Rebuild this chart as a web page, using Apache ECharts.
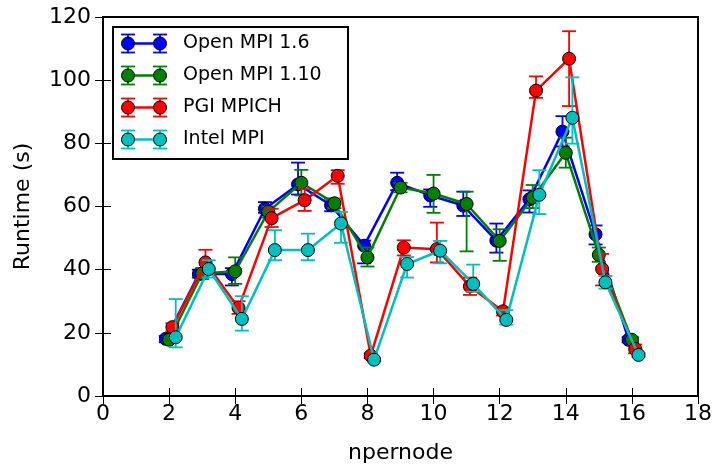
<!DOCTYPE html>
<html>
<head>
<meta charset="utf-8">
<script src="https://cdn.jsdelivr.net/npm/echarts@6/dist/echarts.min.js"></script>
<style>
    html, body { margin: 0; padding: 0; background: #fff; }
    #main { width: 715px; height: 465px; }
</style>
</head>
<body>
<div id="main"></div>
<script>
    // npernode values (every series measured at the same nodes)
    var npernode = [2, 3, 4, 5, 6, 7, 8, 9, 10, 11, 12, 13, 14, 15, 16];
    var names = ['Open MPI 1.6', 'Open MPI 1.10', 'PGI MPICH', 'Intel MPI'];
    var colors = ['#0000ff', '#008000', '#ff0000', '#00bfbf'];
    var offsets = [-0.1, 0, 0.1, 0.2];

    // runtimes (s) with low / high bounds of the error bars
    var mpi16 = [18.1, 38.6, 38.6, 59.3, 67.0, 60.4, 47.6, 67.5, 63.5, 60.3, 49.2, 62.3, 83.7, 51.2, 17.8];
    var mpi16Lo = [17.0, 37.5, 35.0, 58.0, 63.8, 58.5, 42.0, 65.2, 59.9, 57.0, 45.4, 58.1, 79.0, 48.0, 17.0];
    var mpi16Hi = [19.0, 40.0, 40.5, 61.4, 73.9, 62.5, 49.2, 70.7, 65.4, 64.7, 54.6, 65.1, 88.6, 54.0, 18.6];

    var mpi110 = [17.8, 38.8, 39.5, 58.3, 67.5, 61.0, 43.9, 66.0, 64.1, 60.8, 49.1, 62.8, 77.0, 44.7, 17.8];
    var mpi110Lo = [17.3, 37.0, 35.5, 56.5, 63.5, 59.5, 41.0, 64.5, 58.0, 45.8, 42.8, 59.5, 72.3, 42.5, 17.0];
    var mpi110Hi = [18.3, 40.5, 43.9, 60.0, 71.6, 62.5, 47.0, 67.5, 70.0, 64.7, 52.8, 66.8, 81.8, 47.0, 18.6];

    var pgi = [21.8, 42.3, 27.9, 56.3, 62.0, 69.7, 12.8, 47.0, 46.5, 34.7, 26.8, 96.7, 106.8, 40.2, 14.9];
    var pgiLo = [20.5, 38.5, 26.0, 53.5, 58.6, 67.2, 12.0, 44.5, 42.3, 32.0, 25.5, 94.4, 91.8, 35.0, 13.5];
    var pgiHi = [23.0, 46.3, 30.0, 59.3, 65.5, 71.5, 13.5, 49.3, 54.9, 37.5, 28.0, 101.2, 115.5, 45.0, 16.3];

    var intel = [18.6, 40.2, 24.4, 46.2, 46.2, 54.6, 11.5, 41.8, 46.0, 35.5, 24.1, 63.7, 88.1, 36.0, 13.0];
    var intelLo = [15.4, 37.5, 20.7, 43.0, 43.0, 48.5, 11.0, 37.5, 42.0, 33.0, 22.6, 57.6, 79.9, 34.0, 12.3];
    var intelHi = [30.7, 43.0, 31.6, 52.5, 51.4, 58.3, 12.0, 44.0, 49.1, 41.6, 27.2, 71.5, 100.9, 38.0, 13.7];

    var vals = [mpi16, mpi110, pgi, intel];
    var los = [mpi16Lo, mpi110Lo, pgiLo, intelLo];
    var his = [mpi16Hi, mpi110Hi, pgiHi, intelHi];

    var FONT = 'DejaVu Sans';

    function errRender(color) {
        return function (params, api) {
            var x = api.value(0);
            var top = api.coord([x, api.value(2)]);
            var bot = api.coord([x, api.value(1)]);
            var w = 7;
            var st = { stroke: color, lineWidth: 1.8 };
            return {
                type: 'group',
                children: [
                    { type: 'line', shape: { x1: top[0], y1: top[1], x2: bot[0], y2: bot[1] }, style: st },
                    { type: 'line', shape: { x1: top[0] - w, y1: top[1], x2: top[0] + w, y2: top[1] }, style: st },
                    { type: 'line', shape: { x1: bot[0] - w, y1: bot[1], x2: bot[0] + w, y2: bot[1] }, style: st }
                ]
            };
        };
    }

    var series = [];
    for (var i = 0; i < names.length; ++i) {
        var errDat = [], lineDat = [];
        for (var j = 0; j < npernode.length; ++j) {
            var xv = npernode[j] + offsets[i];
            errDat.push([xv, los[i][j], his[i][j]]);
            lineDat.push([xv, vals[i][j]]);
        }
        series.push({
            type: 'custom',
            name: names[i] + ' err',
            renderItem: errRender(colors[i]),
            data: errDat,
            z: 2 + 2 * i,
            silent: true
        });
        series.push({
            type: 'line',
            name: names[i],
            data: lineDat,
            symbol: 'circle',
            symbolSize: 13,
            lineStyle: { color: colors[i], width: 2.5 },
            itemStyle: { color: colors[i], borderColor: '#000', borderWidth: 1 },
            z: 3 + 2 * i,
            animation: false
        });
    }

    // legend box drawn by hand, so it looks like the errorbar legend
    var lgX = 113, lgY = 27, rowH = 32;
    var lgChildren = [{
        type: 'rect',
        shape: { x: lgX, y: lgY, width: 235, height: 132 },
        style: { fill: '#fff', stroke: '#000', lineWidth: 2 }
    }];
    for (var k = 0; k < names.length; ++k) {
        var cy = lgY + 16.5 + k * rowH;
        var c = colors[k];
        lgChildren.push({ type: 'line', shape: { x1: 128, y1: cy, x2: 160, y2: cy }, style: { stroke: c, lineWidth: 2.5 } });
        [128, 160].forEach(function (cx) {
            lgChildren.push({ type: 'line', shape: { x1: cx, y1: cy - 9, x2: cx, y2: cy + 9 }, style: { stroke: c, lineWidth: 1.8 } });
            lgChildren.push({ type: 'line', shape: { x1: cx - 7, y1: cy - 9, x2: cx + 7, y2: cy - 9 }, style: { stroke: c, lineWidth: 1.8 } });
            lgChildren.push({ type: 'line', shape: { x1: cx - 7, y1: cy + 9, x2: cx + 7, y2: cy + 9 }, style: { stroke: c, lineWidth: 1.8 } });
            lgChildren.push({ type: 'circle', shape: { cx: cx, cy: cy, r: 6.5 }, style: { fill: c, stroke: '#000', lineWidth: 1 } });
        });
        lgChildren.push({
            type: 'text', x: 183, y: cy,
            style: { text: names[k], font: '19px "DejaVu Sans"', fill: '#000', verticalAlign: 'middle', textAlign: 'left' }
        });
    }

    var axisCommon = {
        type: 'value',
        axisLine: { show: true, lineStyle: { color: '#000', width: 2 } },
        axisTick: { show: true, inside: true, length: 8, lineStyle: { color: '#000', width: 1 } },
        splitLine: { show: false }
    };

    var option = {
        animation: false,
        backgroundColor: '#fff',
        grid: {
            left: 103, right: 17, top: 17, bottom: 69,
            outerBoundsMode: 'none', containLabel: false,
            show: true, borderColor: '#000', borderWidth: 2
        },
        xAxis: [
            Object.assign({}, axisCommon, {
                min: 0, max: 18, interval: 2, position: 'bottom',
                name: 'npernode', nameLocation: 'middle', nameGap: 46,
                nameTextStyle: { fontFamily: FONT, fontSize: 22, color: '#000' },
                axisLabel: { fontFamily: FONT, fontSize: 22, color: '#000', margin: 7 }
            }),
            Object.assign({}, axisCommon, {
                min: 0, max: 18, interval: 2, position: 'top',
                axisLabel: { show: false }
            })
        ],
        yAxis: [
            Object.assign({}, axisCommon, {
                min: 0, max: 120, interval: 20, position: 'left',
                name: 'Runtime (s)', nameLocation: 'middle', nameGap: 69,
                nameTextStyle: { fontFamily: FONT, fontSize: 22, color: '#000' },
                axisLabel: { fontFamily: FONT, fontSize: 22, color: '#000', margin: 12 }
            }),
            Object.assign({}, axisCommon, {
                min: 0, max: 120, interval: 20, position: 'right',
                axisLabel: { show: false }
            })
        ],
        graphic: [{ type: 'group', z: 100, children: lgChildren }],
        series: series
    };

    var myChart = echarts.init(document.getElementById('main'));
    myChart.setOption(option);
</script>
</body>
</html>
